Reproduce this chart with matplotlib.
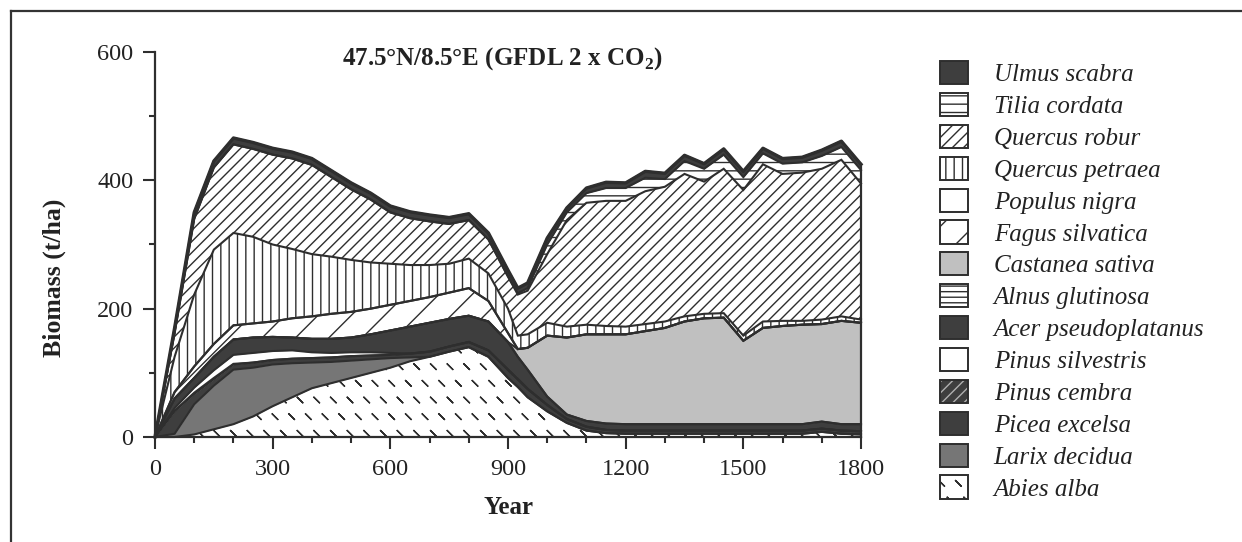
import warnings
import numpy as np
import matplotlib.pyplot as plt
import matplotlib.hatch as mhatch
from matplotlib.path import Path
from matplotlib.patches import Patch
from matplotlib.lines import Line2D
from matplotlib.ticker import MultipleLocator

warnings.filterwarnings('ignore')

plt.rcParams['font.family'] = ['Liberation Serif', 'DejaVu Serif']
plt.rcParams['mathtext.fontset'] = 'custom'
plt.rcParams['mathtext.rm'] = 'Liberation Serif'
plt.rcParams['mathtext.bf'] = 'Liberation Serif:bold'
plt.rcParams['hatch.linewidth'] = 1.0


# short "\" dashes on a staggered grid, used for Abies alba ('~')
class DashHatch(mhatch.Shapes):
    size = 1.0
    filled = False
    shape_vertices = np.array([[-0.17, 0.17], [0.17, -0.17]])
    shape_codes = np.array([Path.MOVETO, Path.LINETO], dtype=Path.code_type)

    def __init__(self, hatch, density):
        self.num_rows = hatch.count('~') * density
        super().__init__(hatch, density)


abies_hatch = '\\'
try:
    mhatch._hatch_types.append(DashHatch)
    mhatch.get_path('~', 6)
    abies_hatch = '~'
except Exception:
    abies_hatch = '\\'

# simulation years
years = [0, 50, 100, 150, 200, 250, 300, 350, 400, 450, 500, 550, 600, 650, 700,
         750, 800, 850, 900, 925, 950, 1000, 1050, 1100, 1150, 1200, 1250, 1300,
         1350, 1400, 1450, 1500, 1550, 1600, 1650, 1700, 1750, 1800]

# biomass per species (t/ha)
abies_alba = [0, 0, 4, 12, 20, 32, 48, 62, 76, 84, 92, 100, 108, 118, 125,
              133, 140, 125, 92, 78, 62, 40, 22, 10, 6, 5, 5, 5,
              5, 5, 5, 5, 5, 5, 5, 8, 5, 4]
larix_decidua = [0, 5, 47, 68, 85, 76, 65, 53, 40, 33, 27, 21, 15, 6, 0,
                 0, 0, 0, 0, 0, 0, 0, 0, 0, 0, 0, 0, 0,
                 0, 0, 0, 0, 0, 0, 0, 0, 0, 0]
picea_excelsa = [0, 35, 16, 10, 8, 8, 7, 7, 7, 7, 7, 6, 5, 6, 8,
                 8, 8, 10, 13, 12, 13, 10, 6, 6, 5, 5, 5, 5,
                 5, 5, 5, 5, 5, 5, 5, 5, 5, 5]
pinus_cembra = [0, 1, 2, 2, 1, 0, 0, 0, 0, 0, 0, 0, 0, 0, 0,
                0, 0, 0, 0, 0, 0, 0, 0, 0, 0, 0, 0, 0,
                0, 0, 0, 0, 0, 0, 0, 0, 0, 0]
pinus_silvestris = [0, 4, 8, 12, 14, 15, 14, 13, 9, 7, 6, 5, 3, 0, 0,
                    0, 0, 0, 0, 0, 0, 0, 0, 0, 0, 0, 0, 0,
                    0, 0, 0, 0, 0, 0, 0, 0, 0, 0]
acer_pseudoplatanus = [0, 15, 15, 21, 24, 24, 22, 20, 21, 22, 23, 28, 35, 42, 45,
                       43, 41, 45, 43, 35, 30, 13, 7, 9, 10, 10, 10, 10,
                       10, 10, 10, 10, 10, 10, 10, 11, 10, 11]
alnus_glutinosa = [0] * 38
castanea_sativa = [0, 0, 0, 0, 0, 0, 0, 0, 0, 0, 0, 0, 0, 0, 0,
                   0, 0, 0, 0, 12, 34, 95, 120, 135, 139, 140, 145, 150,
                   160, 165, 166, 130, 150, 153, 155, 152, 161, 158]
fagus_silvatica = [0, 10, 18, 20, 22, 22, 24, 30, 35, 39, 40, 40, 40, 40, 40,
                   41, 43, 32, 14, 0, 0, 0, 0, 0, 0, 0, 0, 0,
                   0, 0, 0, 0, 0, 0, 0, 0, 0, 0]
populus_nigra = [0] * 38
quercus_petraea = [0, 55, 112, 147, 144, 135, 120, 108, 97, 89, 81, 72, 64, 56, 50,
                   45, 46, 43, 38, 21, 21, 20, 17, 15, 13, 12, 11, 10,
                   8, 7, 7, 8, 10, 8, 6, 7, 7, 5]
quercus_robur = [0, 37, 118, 128, 138, 137, 140, 141, 139, 124, 110, 98, 80, 73, 68,
                 62, 60, 53, 50, 64, 68, 107, 166, 190, 195, 196, 207, 210,
                 222, 206, 225, 227, 245, 229, 231, 235, 244, 212]
tilia_cordata = [0, 0, 0, 0, 0, 0, 0, 0, 0, 0, 0, 0, 0, 0, 0,
                 0, 0, 0, 0, 2, 4, 15, 12, 15, 20, 20, 21, 12,
                 20, 20, 22, 20, 17, 16, 16, 20, 20, 21]
ulmus_scabra = [0, 8, 10, 10, 10, 10, 10, 10, 10, 10, 10, 10, 10, 10, 10,
                10, 10, 10, 10, 8, 8, 10, 7, 8, 9, 8, 10, 9,
                9, 8, 9, 9, 8, 8, 8, 9, 9, 9]

# bottom to top
layers = [
    ('Abies alba', abies_alba),
    ('Larix decidua', larix_decidua),
    ('Picea excelsa', picea_excelsa),
    ('Pinus cembra', pinus_cembra),
    ('Pinus silvestris', pinus_silvestris),
    ('Acer pseudoplatanus', acer_pseudoplatanus),
    ('Alnus glutinosa', alnus_glutinosa),
    ('Castanea sativa', castanea_sativa),
    ('Fagus silvatica', fagus_silvatica),
    ('Populus nigra', populus_nigra),
    ('Quercus petraea', quercus_petraea),
    ('Quercus robur', quercus_robur),
    ('Tilia cordata', tilia_cordata),
    ('Ulmus scabra', ulmus_scabra),
]

dark = '#2e2e2e'
deep = '#3e3e3e'
# face, hatch, hatch colour
styles = {
    'Abies alba': ('white', abies_hatch, dark),
    'Larix decidua': ('#767676', None, dark),
    'Picea excelsa': (deep, None, dark),
    'Pinus cembra': (deep, '///', '#b0b0b0'),
    'Pinus silvestris': ('white', None, dark),
    'Acer pseudoplatanus': (deep, None, dark),
    'Alnus glutinosa': ('white', '---', dark),
    'Castanea sativa': ('#c0c0c0', None, dark),
    'Fagus silvatica': ('white', '/', dark),
    'Populus nigra': ('white', None, dark),
    'Quercus petraea': ('white', '||', dark),
    'Quercus robur': ('white', '///', dark),
    'Tilia cordata': ('white', '--', dark),
    'Ulmus scabra': (deep, None, dark),
}

fig = plt.figure(figsize=(12.42, 5.42), dpi=100)
ax = fig.add_axes([155 / 1242, 1 - 437 / 542, 706 / 1242, 385 / 542])

x = np.array(years)
base = np.zeros(len(years))
tops = []
for name, vals in layers:
    top = base + np.array(vals, dtype=float)
    face, hatch, hcol = styles[name]
    ax.fill_between(x, base, top, facecolor=face, hatch=hatch,
                    edgecolor=hcol, linewidth=0, zorder=2)
    tops.append(top)
    base = top

for top in tops:
    ax.plot(x, top, color=dark, lw=1.5, zorder=3, clip_on=False,
            solid_joinstyle='miter')
ax.plot([x[-1], x[-1]], [0, tops[-1][-1]], color=dark, lw=1.6, zorder=3,
        clip_on=False)
ax.plot(x, tops[-1], color=dark, lw=2.4, zorder=3, clip_on=False)

ax.set_xlim(0, 1800)
ax.set_ylim(0, 600)
ax.set_xticks(range(0, 1801, 300))
ax.set_yticks(range(0, 601, 200))
ax.xaxis.set_minor_locator(MultipleLocator(100))
ax.yaxis.set_minor_locator(MultipleLocator(100))
ax.tick_params(which='major', direction='out', length=8.5, width=1.5,
               labelsize=17.5, color=dark, labelcolor='#222222')
ax.tick_params(axis='x', which='major', pad=7)
ax.tick_params(axis='y', which='major', pad=7)
ax.tick_params(which='minor', direction='out', length=4.2, width=1.5, color=dark)
for s in ['top', 'right']:
    ax.spines[s].set_visible(False)
for s in ['left', 'bottom']:
    ax.spines[s].set_linewidth(1.6)
    ax.spines[s].set_color(dark)
    ax.spines[s].set_zorder(4)

ax.set_xlabel('Year', fontsize=18, fontweight='bold', color='#222222')
ax.xaxis.set_label_coords(0.5, (437 - 507) / 385)
ax.xaxis.label.set_va('center')
ax.set_ylabel('Biomass (t/ha)', fontsize=18.5, fontweight='bold', color='#222222')
ax.yaxis.set_label_coords((54 - 155) / 706, (437 - 278) / 385)
ax.yaxis.label.set_va('center')

ax.text((502 - 155) / 706, (437 - 65) / 385,
        r'47.5°N/8.5°E (GFDL 2 x CO$_\mathbf{2}$)', transform=ax.transAxes,
        ha='center', va='baseline', fontsize=18, fontweight='bold',
        color='#222222')

# legend, top entry first
handles = []
labels = []
for name, vals in reversed(layers):
    face, hatch, hcol = styles[name]
    if name == 'Pinus cembra':
        h = (Patch(facecolor=face, hatch=hatch, edgecolor=hcol, linewidth=0),
             Patch(facecolor='none', edgecolor=dark, linewidth=1.4))
    else:
        h = Patch(facecolor=face, hatch=hatch, edgecolor=dark, linewidth=1.4)
    handles.append(h)
    labels.append(name)

leg = fig.legend(handles, labels, loc='upper left',
                 bbox_to_anchor=(940 / 1242, 1 - 61 / 542),
                 frameon=False, borderpad=0, borderaxespad=0,
                 prop={'family': 'Liberation Serif', 'style': 'italic', 'size': 18},
                 handlelength=1.1, handleheight=1.05, labelspacing=0.27,
                 handletextpad=1.05)
for t in leg.get_texts():
    t.set_color('#222222')

# outer frame
fig.add_artist(Line2D([11 / 1242, 11 / 1242], [0, 1 - 11 / 542],
                      transform=fig.transFigure, color='#333333', lw=1.6))
fig.add_artist(Line2D([11 / 1242, 1], [1 - 11 / 542, 1 - 11 / 542],
                      transform=fig.transFigure, color='#333333', lw=1.6))

fig.savefig('out.png', dpi=100)
